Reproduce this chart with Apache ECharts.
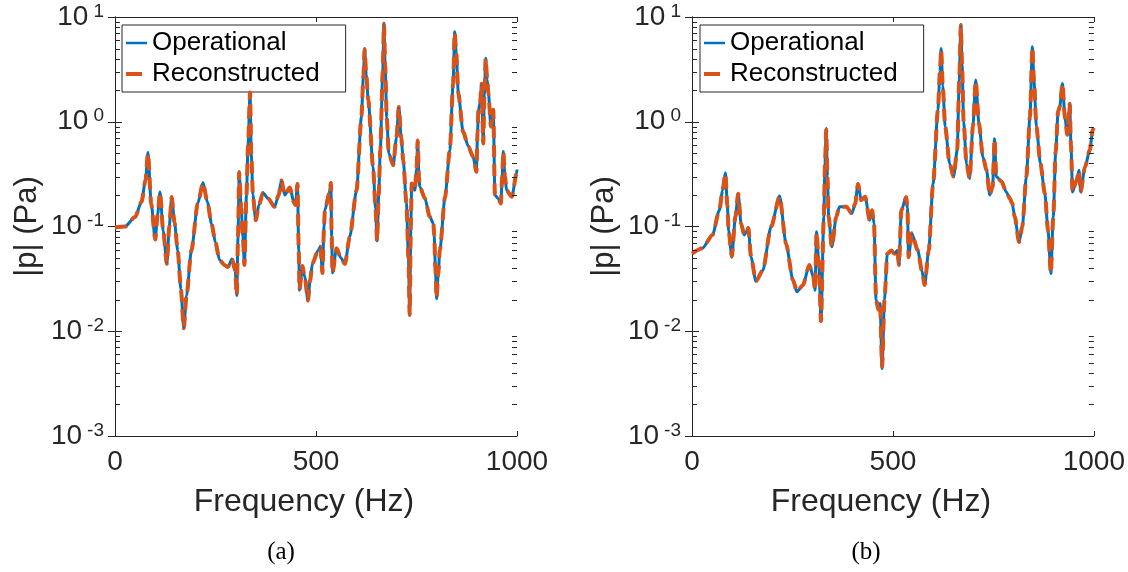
<!DOCTYPE html>
<html>
<head>
<meta charset="utf-8">
<script src="https://cdn.jsdelivr.net/npm/echarts@6/dist/echarts.min.js"></script>
<style>
html, body { margin: 0; padding: 0; background: #fff; }
#main { width: 1128px; height: 572px; }
</style>
</head>
<body>
<div id="main"></div>
<script>
// (a) 频率点与幅值
var freqA = [0, 25, 50, 66, 76, 82, 90, 100, 106, 112, 120, 129, 135, 141, 148, 156, 164, 171, 178, 190,
	206, 219, 230, 240, 250, 260, 272, 281, 291, 299, 303, 306, 309, 314, 318, 322, 327, 331, 336, 339,
	343, 350, 358, 368, 381, 397, 407, 414, 422, 435, 445, 449, 454, 457, 459, 466, 472, 480, 485, 491,
	505, 511, 516, 520, 522, 533, 537, 539, 541, 551, 562, 572, 584, 601, 613, 618, 621, 625, 630, 642,
	648, 652, 656, 660, 666, 669, 672, 676, 681, 692, 700, 706, 712, 717, 725, 730, 733, 736, 738, 746,
	750, 753, 756, 758, 771, 783, 792, 794, 797, 800, 804, 808, 821, 833, 841, 845, 849, 854, 866, 879,
	891, 899, 902, 904, 908, 912, 916, 919, 922, 926, 929, 935, 941, 945, 953, 960, 963, 966, 970, 974,
	987, 999, 1000];
var opA = [0.098, 0.10, 0.123, 0.172, 0.28, 0.51, 0.166, 0.075, 0.13, 0.214, 0.09, 0.044, 0.10, 0.192, 0.11, 0.059, 0.025, 0.0106, 0.022, 0.059,
	0.166, 0.263, 0.17, 0.107, 0.07, 0.048, 0.043, 0.041, 0.049, 0.038, 0.022, 0.08, 0.333, 0.15, 0.08, 0.043, 0.2, 0.6, 1.95, 0.5,
	0.2, 0.115, 0.16, 0.21, 0.185, 0.154, 0.2, 0.277, 0.2, 0.236, 0.17, 0.16, 0.257, 0.06, 0.0247, 0.042, 0.033, 0.0195, 0.03, 0.044,
	0.059, 0.064, 0.036, 0.1, 0.143, 0.207, 0.263, 0.08, 0.036, 0.062, 0.05, 0.044, 0.08, 0.222, 1.12, 2.8, 5.0, 2.8, 1.61, 0.37,
	0.15, 0.073, 0.2, 0.54, 3.0, 8.7, 3.5, 1.1, 0.5, 0.385, 0.7, 1.39, 0.7, 0.43, 0.166, 0.05, 0.0142, 0.1, 0.257, 0.222,
	0.35, 0.67, 0.3, 0.24, 0.185, 0.124, 0.107, 0.083, 0.04, 0.0205, 0.035, 0.059, 0.192, 0.54, 2.32, 7.24, 4.5, 1.86, 0.8, 0.58,
	0.46, 0.333, 0.8, 1.29, 1.5, 2.32, 0.62, 1.8, 4.03, 2.5, 1.86, 0.9, 1.3, 0.2, 0.185, 0.166, 0.3, 0.52, 0.3, 0.222,
	0.192, 0.32, 0.35];
var recA = [0.098, 0.10, 0.123, 0.172, 0.28, 0.50, 0.166, 0.075, 0.13, 0.212, 0.09, 0.044, 0.10, 0.19, 0.11, 0.059, 0.025, 0.0107, 0.022, 0.059,
	0.166, 0.26, 0.17, 0.107, 0.07, 0.048, 0.043, 0.041, 0.049, 0.038, 0.022, 0.08, 0.33, 0.15, 0.08, 0.043, 0.2, 0.6, 1.9, 0.5,
	0.2, 0.115, 0.16, 0.21, 0.185, 0.154, 0.2, 0.275, 0.2, 0.236, 0.17, 0.16, 0.255, 0.06, 0.025, 0.042, 0.033, 0.0197, 0.03, 0.044,
	0.059, 0.064, 0.036, 0.1, 0.143, 0.207, 0.26, 0.08, 0.036, 0.062, 0.05, 0.044, 0.08, 0.222, 1.12, 2.8, 4.9, 2.8, 1.61, 0.37,
	0.15, 0.073, 0.2, 0.54, 3.0, 8.5, 3.5, 1.1, 0.5, 0.385, 0.7, 1.38, 0.7, 0.43, 0.166, 0.05, 0.0144, 0.1, 0.257, 0.222,
	0.35, 0.66, 0.3, 0.24, 0.185, 0.124, 0.107, 0.083, 0.04, 0.0207, 0.035, 0.059, 0.192, 0.54, 2.32, 7.1, 4.5, 1.86, 0.8, 0.58,
	0.46, 0.333, 0.8, 1.29, 1.5, 2.3, 0.62, 1.8, 4.0, 2.5, 1.86, 0.9, 1.3, 0.2, 0.185, 0.166, 0.3, 0.52, 0.3, 0.222,
	0.192, 0.32, 0.35];

// (b) 频率点与幅值
var freqB = [0, 26, 51, 68, 76, 83, 88, 91, 99, 108, 115, 122, 130, 136, 140, 147, 159, 176, 197, 218,
	234, 251, 261, 276, 292, 302, 306, 310, 316, 321, 328, 331, 334, 337, 340, 348, 359, 367, 384, 398,
	406, 413, 421, 431, 442, 448, 453, 458, 464, 468, 473, 479, 486, 496, 504, 511, 515, 521, 533, 536,
	539, 547, 562, 572, 579, 589, 600, 612, 617, 620, 624, 630, 641, 651, 660, 665, 669, 672, 676, 683,
	691, 699, 706, 714, 724, 733, 741, 748, 753, 757, 770, 782, 791, 797, 803, 814, 822, 832, 841, 847,
	851, 857, 867, 878, 886, 893, 899, 905, 911, 915, 922, 928, 934, 940, 943, 947, 957, 963, 967, 978,
	990, 997, 1000];
var opB = [0.055, 0.062, 0.083, 0.143, 0.22, 0.326, 0.16, 0.092, 0.051, 0.124, 0.207, 0.107, 0.083, 0.09, 0.098, 0.051, 0.030, 0.038, 0.10, 0.195,
	0.069, 0.031, 0.0238, 0.0275, 0.043, 0.033, 0.0246, 0.089, 0.041, 0.0123, 0.124, 0.4, 0.86, 0.3, 0.124, 0.064, 0.124, 0.154, 0.154, 0.133,
	0.166, 0.257, 0.179, 0.192, 0.115, 0.143, 0.107, 0.02, 0.016, 0.0184, 0.0044, 0.02, 0.055, 0.059, 0.055, 0.059, 0.043, 0.143, 0.192, 0.15,
	0.051, 0.086, 0.059, 0.038, 0.0275, 0.059, 0.257, 1.29, 3.0, 5.0, 2.2, 0.9, 0.4, 0.3, 0.54, 2.5, 8.5, 3.5, 1.0, 0.4,
	0.287, 0.9, 2.5, 0.96, 0.46, 0.345, 0.2, 0.24, 0.69, 0.3, 0.27, 0.214, 0.185, 0.166, 0.124, 0.071, 0.1, 0.3, 1.12, 5.2,
	2.5, 0.9, 0.4, 0.207, 0.092, 0.0356, 0.124, 0.52, 1.25, 1.39, 2.32, 1.1, 0.75, 1.5, 0.6, 0.214, 0.277, 0.345, 0.214, 0.37,
	0.54, 0.83, 0.87];
var recB = [0.055, 0.062, 0.083, 0.143, 0.22, 0.32, 0.16, 0.092, 0.052, 0.124, 0.205, 0.107, 0.083, 0.09, 0.097, 0.051, 0.030, 0.038, 0.10, 0.193,
	0.069, 0.031, 0.024, 0.0275, 0.043, 0.033, 0.025, 0.088, 0.041, 0.0125, 0.124, 0.4, 0.84, 0.3, 0.124, 0.064, 0.124, 0.154, 0.154, 0.133,
	0.166, 0.255, 0.179, 0.192, 0.115, 0.143, 0.107, 0.02, 0.016, 0.0184, 0.0046, 0.02, 0.055, 0.059, 0.055, 0.059, 0.043, 0.143, 0.19, 0.15,
	0.051, 0.086, 0.059, 0.038, 0.0277, 0.059, 0.257, 1.29, 3.0, 4.9, 2.2, 0.9, 0.4, 0.3, 0.54, 2.5, 8.3, 3.5, 1.0, 0.4,
	0.287, 0.9, 2.45, 0.96, 0.46, 0.345, 0.2, 0.24, 0.68, 0.3, 0.27, 0.214, 0.185, 0.166, 0.124, 0.071, 0.1, 0.3, 1.12, 5.1,
	2.5, 0.9, 0.4, 0.207, 0.092, 0.036, 0.124, 0.52, 1.25, 1.39, 2.3, 1.1, 0.75, 1.48, 0.6, 0.214, 0.277, 0.34, 0.214, 0.37,
	0.54, 0.83, 0.87];

var seriesNames = ['Operational', 'Reconstructed'];
// 对数轴次刻度
var minorVals = [0.002, 0.003, 0.004, 0.005, 0.006, 0.007, 0.008, 0.009,
	0.02, 0.03, 0.04, 0.05, 0.06, 0.07, 0.08, 0.09,
	0.2, 0.3, 0.4, 0.5, 0.6, 0.7, 0.8, 0.9,
	2, 3, 4, 5, 6, 7, 8, 9];

var axisColor = '#262626';
var font = '"Liberation Sans", Arial, Helvetica, sans-serif';

function pairs(xs, ys) {
	var out = [];
	for (var i = 0; i < xs.length; i++) {
		out.push([xs[i], ys[i]]);
	}
	return out;
}

function minorTickItem(params, api) {
	var cs = params.coordSys;
	var y = Math.round(api.coord([0, api.value(1)])[1]) + 0.5;
	var st = { stroke: axisColor, lineWidth: 1 };
	return {
		type: 'group',
		children: [
			{ type: 'line', shape: { x1: cs.x, y1: y, x2: cs.x + 5, y2: y }, style: st },
			{ type: 'line', shape: { x1: cs.x + cs.width - 5, y1: y, x2: cs.x + cs.width, y2: y }, style: st }
		]
	};
}

var grids = [
	{ left: 115, top: 17, width: 402, height: 419 },
	{ left: 692, top: 17, width: 402, height: 419 }
];

var xAxes = [], yAxes = [], series = [], legends = [];
var panels = [[freqA, opA, recA], [freqB, opB, recB]];
var legendLeft = [122, 700];

for (var g = 0; g < 2; g++) {
	xAxes.push({
		type: 'value', gridIndex: g, min: 0, max: 1000, interval: 500, position: 'bottom',
		name: 'Frequency (Hz)', nameLocation: 'middle', nameGap: 50,
		nameTextStyle: { fontSize: 32, color: axisColor, fontFamily: font, padding: [0, 24, 0, 0] },
		axisLine: { lineStyle: { color: axisColor, width: 1 } },
		axisTick: { inside: true, length: 5, lineStyle: { color: axisColor } },
		axisLabel: {
			fontSize: 28, color: axisColor, fontFamily: font, margin: 12,
			formatter: function(v) { return String(v); }
		},
		splitLine: { show: false }
	});
	xAxes.push({
		type: 'value', gridIndex: g, min: 0, max: 1000, interval: 500, position: 'top',
		axisLine: { lineStyle: { color: axisColor, width: 1 } },
		axisTick: { inside: true, length: 5, lineStyle: { color: axisColor } },
		axisLabel: { show: false },
		splitLine: { show: false }
	});
	yAxes.push({
		type: 'log', logBase: 10, gridIndex: g, min: 0.001, max: 10, splitNumber: 4, position: 'left',
		name: '|p| (Pa)', nameLocation: 'middle', nameGap: 72,
		nameTextStyle: { fontSize: 31, color: axisColor, fontFamily: font },
		axisLine: { show: true, lineStyle: { color: axisColor, width: 1 } },
		axisTick: { inside: true, length: 7, lineStyle: { color: axisColor } },
		axisLabel: {
			margin: 11, color: axisColor, fontFamily: font,
			formatter: function(v) {
				var e = Math.round(Math.log(v) / Math.LN10);
				return '{b|10}{s|' + e + '}';
			},
			rich: {
				b: { fontSize: 28, lineHeight: 30, color: axisColor, fontFamily: font },
				s: { fontSize: 19, lineHeight: 19, verticalAlign: 'top', color: axisColor, fontFamily: font, padding: [0, 0, 0, 5] }
			}
		},
		splitLine: { show: false }
	});
	yAxes.push({
		type: 'log', logBase: 10, gridIndex: g, min: 0.001, max: 10, splitNumber: 4, position: 'right',
		axisLine: { show: true, lineStyle: { color: axisColor, width: 1 } },
		axisTick: { inside: true, length: 7, lineStyle: { color: axisColor } },
		axisLabel: { show: false },
		splitLine: { show: false }
	});

	series.push({
		name: seriesNames[0], type: 'line', xAxisIndex: g * 2, yAxisIndex: g * 2,
		data: pairs(panels[g][0], panels[g][1]),
		showSymbol: false, symbol: 'none', smooth: 0.25, smoothMonotone: 'x',
		lineStyle: { color: '#0072BD', width: 3 }, itemStyle: { color: '#0072BD' },
		z: 3
	});
	series.push({
		name: seriesNames[1], type: 'line', xAxisIndex: g * 2, yAxisIndex: g * 2,
		data: pairs(panels[g][0], panels[g][2]),
		showSymbol: false, symbol: 'none', smooth: 0.25, smoothMonotone: 'x',
		lineStyle: { color: '#D95319', width: 4, type: [12, 7] }, itemStyle: { color: '#D95319' },
		z: 4
	});
	series.push({
		name: 'minor' + g, type: 'custom', xAxisIndex: g * 2, yAxisIndex: g * 2,
		data: minorVals.map(function(v) { return [0, v]; }),
		renderItem: minorTickItem, silent: true, clip: false, z: 5
	});

	legends.push({
		data: [
			{ name: seriesNames[0], lineStyle: { width: 2.5, type: 'solid' } },
			{ name: seriesNames[1], lineStyle: { width: 4, type: [16, 8] } }
		],
		orient: 'vertical', left: legendLeft[g], top: 25,
		backgroundColor: '#fff', borderColor: axisColor, borderWidth: 1, borderRadius: 0,
		padding: [4, 26, 4, 2], itemGap: 3, itemWidth: 21, itemHeight: 14,
		itemStyle: { opacity: 0 },
		textStyle: { fontSize: 26, lineHeight: 28, color: '#000', fontFamily: font },
		selectedMode: false
	});
}

var chart = echarts.init(document.getElementById('main'), null, { renderer: 'canvas' });
chart.setOption({
	backgroundColor: '#fff',
	animation: false,
	grid: grids,
	xAxis: xAxes,
	yAxis: yAxes,
	legend: legends,
	series: series,
	graphic: [
		{ type: 'text', x: 281, y: 552, style: { text: '(a)', font: '25px "Liberation Serif", "DejaVu Serif", serif', fill: '#000', textAlign: 'center', textVerticalAlign: 'middle' } },
		{ type: 'text', x: 866, y: 552, style: { text: '(b)', font: '25px "Liberation Serif", "DejaVu Serif", serif', fill: '#000', textAlign: 'center', textVerticalAlign: 'middle' } }
	]
});
</script>
</body>
</html>
